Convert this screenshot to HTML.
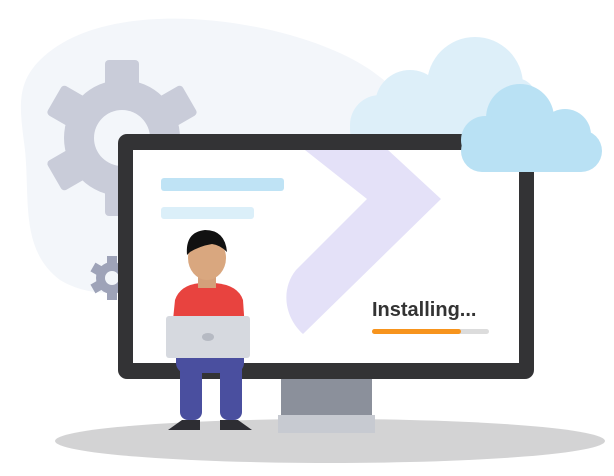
<!DOCTYPE html>
<html><head><meta charset="utf-8"><style>html,body{margin:0;padding:0;background:#fff}svg{display:block}</style></head>
<body>
<svg width="614" height="476" viewBox="0 0 614 476" xmlns="http://www.w3.org/2000/svg">
<!-- background blob -->
<path d="M40,60 C90,10 200,10 290,35 C360,55 420,90 415,150 C410,220 330,250 240,265 C170,280 110,310 60,280 C20,250 30,200 25,150 C20,110 15,85 40,60 Z" fill="#f3f6fa"/>
<!-- gear -->
<g transform="translate(122,138)" fill="#c9ccd9">
  <circle r="58"/>
  <g>
    <rect x="-17" y="-78" width="34" height="40" rx="4"/>
    <rect x="-17" y="-78" width="34" height="40" rx="4" transform="rotate(60)"/>
    <rect x="-17" y="-78" width="34" height="40" rx="4" transform="rotate(120)"/>
    <rect x="-17" y="-78" width="34" height="40" rx="4" transform="rotate(180)"/>
    <rect x="-17" y="-78" width="34" height="40" rx="4" transform="rotate(240)"/>
    <rect x="-17" y="-78" width="34" height="40" rx="4" transform="rotate(300)"/>
  </g>
  <circle r="28" fill="#f3f6fa"/>
</g>
<!-- small gear -->
<g transform="translate(112,278)" fill="#9ea3b8">
  <circle r="16"/>
  <rect x="-5" y="-22" width="10" height="10"/>
  <rect x="-5" y="-22" width="10" height="10" transform="rotate(60)"/>
  <rect x="-5" y="-22" width="10" height="10" transform="rotate(120)"/>
  <rect x="-5" y="-22" width="10" height="10" transform="rotate(180)"/>
  <rect x="-5" y="-22" width="10" height="10" transform="rotate(240)"/>
  <rect x="-5" y="-22" width="10" height="10" transform="rotate(300)"/>
  <circle r="7" fill="#f3f6fa"/>
</g>
<!-- back cloud -->
<g fill="#ddeff9">
  <circle cx="475" cy="85" r="48"/>
  <circle cx="410" cy="105" r="35"/>
  <circle cx="380" cy="125" r="30"/>
  <circle cx="515" cy="100" r="22"/>
  <rect x="350" y="110" width="180" height="40" rx="20"/>
</g>
<!-- shadow -->
<ellipse cx="330" cy="441" rx="275" ry="22" fill="#d3d3d4"/>
<!-- stand -->
<rect x="281" y="376" width="91" height="42" fill="#8b909b"/>
<rect x="278" y="415" width="97" height="18" fill="#c7cad1"/>
<!-- monitor -->
<rect x="118" y="134" width="416" height="245" rx="9" fill="#333335"/>
<rect x="133" y="150" width="386" height="213" fill="#ffffff"/>
<!-- chevron -->
<path d="M305,150 L388,150 L441,199 L303,334 C285,318 280,290 296,270 L367,199 Z" fill="#e4e1f8"/>
<!-- bars -->
<rect x="161" y="178" width="123" height="13" rx="3" fill="#bfe3f5"/>
<rect x="161" y="207" width="93" height="12" rx="3" fill="#dbeff9"/>
<!-- installing -->
<text x="372" y="316" font-family="Liberation Sans, sans-serif" font-weight="bold" font-size="20" fill="#333">Installing...</text>
<rect x="372" y="329" width="117" height="5" rx="2.5" fill="#dcdcdc"/>
<rect x="372" y="329" width="89" height="5" rx="2.5" fill="#f7941d"/>
<!-- front cloud -->
<g fill="#b9e1f4">
  <circle cx="520" cy="118" r="34"/>
  <circle cx="485" cy="140" r="24"/>
  <circle cx="565" cy="135" r="26"/>
  <rect x="461" y="130" width="141" height="42" rx="21"/>
</g>
<!-- person -->
<rect x="180" y="345" width="22" height="75" rx="8" fill="#4a4f9f"/>
<rect x="220" y="345" width="22" height="75" rx="8" fill="#4a4f9f"/>
<rect x="176" y="348" width="68" height="25" rx="10" fill="#4a4f9f"/>
<path d="M168,430 L200,430 L200,420 L182,420 Z" fill="#2d2d33"/>
<path d="M220,420 L238,420 L252,430 L220,430 Z" fill="#2d2d33"/>
<path d="M175,300 Q180,285 200,283 L215,283 Q238,285 243,300 L245,330 L172,330 Z" fill="#e8433f"/>
<rect x="198" y="272" width="18" height="16" fill="#d4a07a"/>
<ellipse cx="207" cy="258" rx="19" ry="22" fill="#d9a77f"/>
<path d="M187,255 Q185,232 205,230 Q225,230 227,252 Q220,245 212,244 Q200,246 190,252 Z" fill="#111"/>
<rect x="166" y="316" width="84" height="42" rx="3" fill="#d6d9df"/>
<ellipse cx="208" cy="337" rx="6" ry="4" fill="#b6bac3"/>
</svg>
</body></html>
